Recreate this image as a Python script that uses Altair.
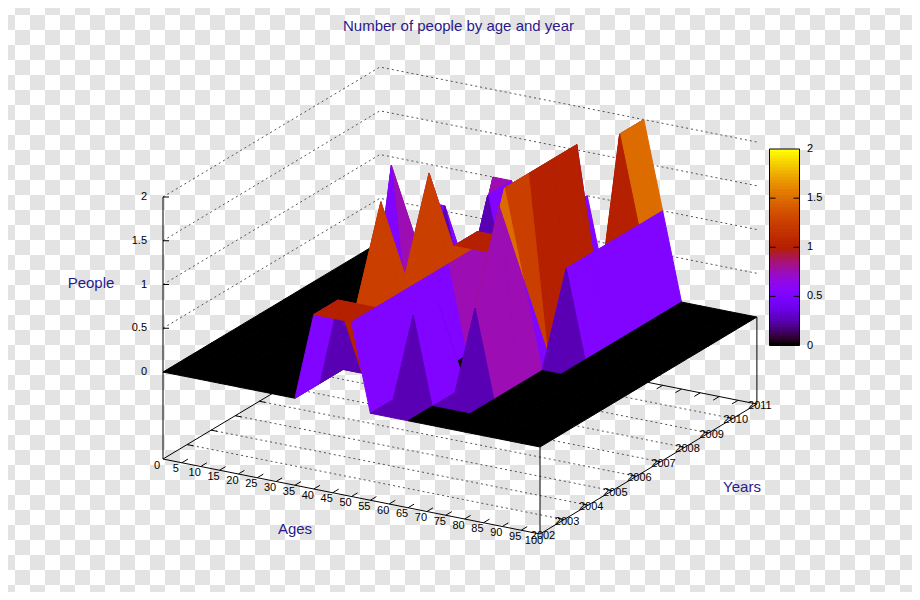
import math
import altair as alt
import pandas as pd

TITLE = "Number of people by age and year"
age_ticks = list(range(0, 105, 5))
year_ticks = list(range(2002, 2012))
z_ticks = [0, 0.5, 1, 1.5, 2]
z_tick_labels = ["0", "0.5", "1", "1.5", "2"]

# people per age group (0, 5, ... 100), one list per year
people_2002 = [0,0,0,0,0,0,0,0,1,1,1,0,0,0,0,0,0,0,0,0,0]
people_2003 = [0,0,0,0,0,0,0,0,1,1,1,0,1,0,0,0,0,0,0,0,0]
people_2004 = [0,0,0,0,0,0,0,0,0,2,1,0,1,0,1,0,0,0,0,0,0]
people_2005 = [0,0,0,0,0,0,0,0,0,1,1,0,0,1,2,0,0,0,0,0,0]
people_2006 = [0,0,0,0,0,0,0,2,0,2,1,0,0,2,1,0,0,0,0,0,0]
people_2007 = [0,0,0,0,0,0,0,1,0,1,1,1,0,2,0,1,0,0,0,0,0]
people_2008 = [0,0,0,0,0,0,0,0,0,1,1,1,0,2,0,1,0,0,0,0,0]
people_2009 = [0,0,0,0,0,1,1,0,0,0,0,1,0,2,0,1,0,0,0,0,0]
people_2010 = [0,0,0,0,0,0,0,1,0,0,0,1,0,0,2,1,0,0,0,0,0]
people_2011 = [0,0,0,0,0,0,1,1,0,0,0,1,0,0,2,1,0,0,0,0,0]
grid = [people_2002, people_2003, people_2004, people_2005, people_2006,
        people_2007, people_2008, people_2009, people_2010, people_2011]

# view of the 3-D box
X0, Y0 = 163.0, 372.0
X_AGE, Y_AGE = 3.77, 0.75
X_YEAR, Y_YEAR = 24.1, -14.44
Z_UNIT = 87.5
FLOOR = 87.0
W, H = 904, 584
BLUE = "#2a1a8c"
FONT = "Liberation Sans"


def px(age, year):
    return X0 + X_AGE * age + X_YEAR * (year - 2002)


def py(age, year, z):
    return Y0 + Y_AGE * age + Y_YEAR * (year - 2002) - Z_UNIT * z


def fy(age, year):
    return py(age, year, 0) + FLOOR


def palette(z):
    t = z / 2
    r = math.sqrt(t)
    g = t ** 3
    b = max(0.0, math.sin(2 * math.pi * t))
    return "#%02x%02x%02x" % (round(r * 255), round(g * 255), round(b * 255))


xs = alt.Scale(domain=[8, 8 + W], range=[0, W])
ys = alt.Scale(domain=[8, 8 + H], reverse=True)
X = alt.X("x:Q", scale=xs, axis=None)
Y = alt.Y("y:Q", scale=ys, axis=None)

# background squares
cells = []
for i in range(0, 62):
    for j in range(0, 40):
        if (i + j) % 2 == 1:
            cx, cy = 15 * i, 15 * j
            x1, x2 = max(cx, 8), min(cx + 15, 8 + W)
            y1, y2 = max(cy, 8), min(cy + 15, 8 + H)
            if x1 < x2 and y1 < y2:
                cells.append({"x": x1, "x2": x2, "y": y1, "y2": y2})
cell_chart = alt.Chart(pd.DataFrame(cells)).mark_rect(fill="#e3e3e3", strokeWidth=0).encode(
    x=X, x2="x2:Q", y=Y, y2="y2:Q")

A_MAX, Y_MAX, Y_MIN = age_ticks[-1], year_ticks[-1], year_ticks[0]

# dashed grid
dashed = []
def seg(rows, key, p, q):
    rows.append({"id": key, "o": 0, "x": p[0], "y": p[1]})
    rows.append({"id": key, "o": 1, "x": q[0], "y": q[1]})

for z in z_ticks[1:]:
    dashed += [{"id": f"z{z}", "o": 0, "x": px(0, Y_MIN), "y": py(0, Y_MIN, z)},
               {"id": f"z{z}", "o": 1, "x": px(0, Y_MAX), "y": py(0, Y_MAX, z)},
               {"id": f"z{z}", "o": 2, "x": px(A_MAX, Y_MAX), "y": py(A_MAX, Y_MAX, z)}]
for yr in year_ticks[1:-1]:
    seg(dashed, f"y{yr}", (px(0, yr), fy(0, yr)), (px(A_MAX, yr), fy(A_MAX, yr)))
dash_chart = alt.Chart(pd.DataFrame(dashed)).mark_line(
    color="#555555", strokeWidth=1, strokeDash=[2, 3]).encode(x=X, y=Y, detail="id:N", order="o:Q")

# solid box and ticks
solid = []
seg(solid, "front", (px(0, Y_MIN), fy(0, Y_MIN)), (px(A_MAX, Y_MIN), fy(A_MAX, Y_MIN)))
seg(solid, "right", (px(A_MAX, Y_MIN), fy(A_MAX, Y_MIN)), (px(A_MAX, Y_MAX), fy(A_MAX, Y_MAX)))
seg(solid, "left", (px(0, Y_MIN), fy(0, Y_MIN)), (px(0, Y_MAX), fy(0, Y_MAX)))
seg(solid, "back", (px(0, Y_MAX), fy(0, Y_MAX)), (px(A_MAX, Y_MAX), fy(A_MAX, Y_MAX)))
seg(solid, "zaxis", (px(0, Y_MIN), fy(0, Y_MIN)), (px(0, Y_MIN), py(0, Y_MIN, 2)))
seg(solid, "v1", (px(A_MAX, Y_MIN), fy(A_MAX, Y_MIN)), (px(A_MAX, Y_MIN), py(A_MAX, Y_MIN, 0)))
seg(solid, "v2", (px(A_MAX, Y_MAX), fy(A_MAX, Y_MAX)), (px(A_MAX, Y_MAX), py(A_MAX, Y_MAX, 0)))
for a in age_ticks[1:-1]:
    seg(solid, f"a{a}", (px(a, Y_MIN), fy(a, Y_MIN)), (px(a, Y_MIN + 0.25), fy(a, Y_MIN + 0.25)))
    seg(solid, f"b{a}", (px(a, Y_MAX), fy(a, Y_MAX)), (px(a, Y_MAX - 0.25), fy(a, Y_MAX - 0.25)))
for yr in year_ticks[1:-1]:
    seg(solid, f"l{yr}", (px(0, yr), fy(0, yr)), (px(1.6, yr), fy(1.6, yr)))
    seg(solid, f"r{yr}", (px(A_MAX, yr), fy(A_MAX, yr)), (px(A_MAX - 1.6, yr), fy(A_MAX - 1.6, yr)))
for z in z_ticks:
    seg(solid, f"t{z}", (px(0, Y_MIN), py(0, Y_MIN, z)), (px(0, Y_MIN) + 6, py(0, Y_MIN, z)))
solid_chart = alt.Chart(pd.DataFrame(solid)).mark_line(color="#000000", strokeWidth=1).encode(
    x=X, y=Y, detail="id:N", order="o:Q")

# surface, far cells first
quads = []
n = 0
for ia in range(len(age_ticks) - 1):
    for iy in range(len(year_ticks) - 2, -1, -1):
        corners = [(ia, iy), (ia + 1, iy), (ia + 1, iy + 1), (ia, iy + 1), (ia, iy)]
        mean = sum(grid[j][i] for i, j in corners[:4]) / 4
        col = palette(mean)
        for o, (i, j) in enumerate(corners):
            quads.append({"id": f"q{n:04d}", "o": o, "c": col,
                          "x": px(age_ticks[i], year_ticks[j]),
                          "y": py(age_ticks[i], year_ticks[j], grid[j][i])})
        n += 1
surface = alt.Chart(pd.DataFrame(quads)).mark_line(strokeWidth=1).encode(
    x=X, y=Y, detail="id:N", order="o:Q",
    fill=alt.Fill("c:N", scale=None, legend=None),
    stroke=alt.Stroke("c:N", scale=None, legend=None))

# colour bar
CB_L, CB_R, CB_T, CB_B = 769.5, 799.5, 149.0, 345.5
steps = 64
bar = []
for k in range(steps):
    z = 2 * k / (steps - 1)
    top = CB_B + (CB_T - CB_B) * (k + 1) / steps
    bot = CB_B + (CB_T - CB_B) * k / steps
    bar.append({"x": CB_L, "x2": CB_R, "y": top - (0.8 if k < steps - 1 else 0), "y2": bot, "c": palette(z)})
bar_chart = alt.Chart(pd.DataFrame(bar)).mark_rect(strokeWidth=0).encode(
    x=X, x2="x2:Q", y=Y, y2="y2:Q", fill=alt.Fill("c:N", scale=None, legend=None))

frame = []
for k, (p, q) in enumerate([((CB_L, CB_T), (CB_R, CB_T)), ((CB_R, CB_T), (CB_R, CB_B)),
                            ((CB_R, CB_B), (CB_L, CB_B)), ((CB_L, CB_B), (CB_L, CB_T))]):
    seg(frame, f"f{k}", p, q)
for z in z_ticks[1:-1]:
    yy = CB_B + (CB_T - CB_B) * z / 2
    seg(frame, f"m{z}", (CB_L, yy), (CB_L + 6, yy))
    seg(frame, f"n{z}", (CB_R, yy), (CB_R - 6, yy))
frame_chart = alt.Chart(pd.DataFrame(frame)).mark_line(color="#000000", strokeWidth=1).encode(
    x=X, y=Y, detail="id:N", order="o:Q")

# text
age_labels = pd.DataFrame([{"x": px(a, Y_MIN) - 6, "y": fy(a, Y_MIN) + 6.5, "t": str(a)} for a in age_ticks])
year_labels = pd.DataFrame([{"x": px(A_MAX, yr) + 3, "y": fy(A_MAX, yr) + 2, "t": str(yr)} for yr in year_ticks])
z_labels = pd.DataFrame([{"x": 147, "y": py(0, Y_MIN, z), "t": s} for z, s in zip(z_ticks, z_tick_labels)])
cb_labels = pd.DataFrame([{"x": 807, "y": CB_B + (CB_T - CB_B) * z / 2, "t": s} for z, s in zip(z_ticks, z_tick_labels)])
heads = pd.DataFrame([
    {"x": 458.5, "y": 26, "t": TITLE},
    {"x": 91, "y": 283, "t": "People"},
    {"x": 295, "y": 529, "t": "Ages"},
    {"x": 742, "y": 487, "t": "Years"},
])

def text_layer(df, align, color, size):
    return alt.Chart(df).mark_text(align=align, baseline="middle", font=FONT, fontSize=size, color=color).encode(
        x=X, y=Y, text="t:N")

chart = alt.layer(
    cell_chart, dash_chart, solid_chart, surface, bar_chart, frame_chart,
    text_layer(age_labels, "center", "#000000", 11),
    text_layer(year_labels, "center", "#000000", 11),
    text_layer(z_labels, "right", "#000000", 11),
    text_layer(cb_labels, "left", "#000000", 11),
    text_layer(heads, "center", BLUE, 15),
).properties(width=W, height=H, padding=0, autosize=alt.AutoSizeParams(type="none"), background="#ffffff"
).configure_view(strokeWidth=0)

chart.save("out.html", embed_options={"renderer": "svg", "actions": False})
